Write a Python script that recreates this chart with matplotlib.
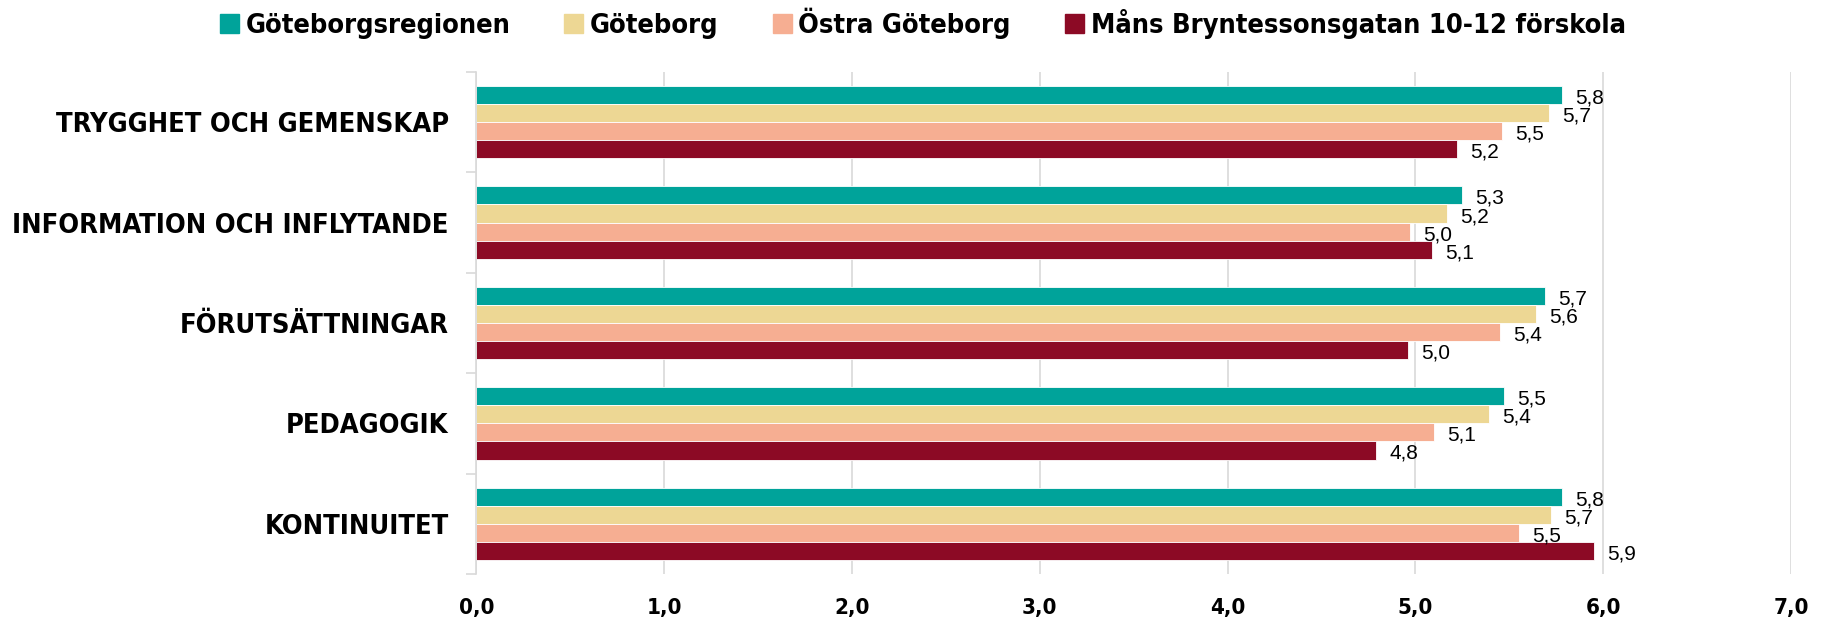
import numpy as np
import matplotlib.pyplot as plt
from matplotlib.patches import Patch
from matplotlib.font_manager import FontProperties

kategorier = ["TRYGGHET OCH GEMENSKAP", "INFORMATION OCH INFLYTANDE",
              "FÖRUTSÄTTNINGAR", "PEDAGOGIK", "KONTINUITET"]
serier = ["Göteborgsregionen", "Göteborg", "Östra Göteborg",
          "Måns Bryntessonsgatan 10-12 förskola"]
gbg_region = [5.78, 5.25, 5.69, 5.47, 5.78]
goteborg = [5.71, 5.17, 5.64, 5.39, 5.72]
ostra = [5.46, 4.97, 5.45, 5.10, 5.55]
forskola = [5.22, 5.09, 4.96, 4.79, 5.95]
etiketter = [[5.8, 5.3, 5.7, 5.5, 5.8],
             [5.7, 5.2, 5.6, 5.4, 5.7],
             [5.5, 5.0, 5.4, 5.1, 5.5],
             [5.2, 5.1, 5.0, 4.8, 5.9]]
farger = ["#00A39A", "#EDD794", "#F6AE92", "#8C0A25"]


def smal(size):
    return FontProperties(family="DejaVu Sans", stretch="condensed",
                          weight="bold", size=size)


fig = plt.figure(figsize=(18.27, 6.2), dpi=100)
ax = fig.add_axes([0.2608, 0.0742, 0.9803 - 0.2608, 0.884 - 0.0742])

data = [gbg_region, goteborg, ostra, forskola]
n = len(kategorier)
y = np.arange(n)
h = 0.18
for i, vals in enumerate(data):
    pos = y - 1.5 * h + i * h
    ax.barh(pos, vals, height=h, color=farger[i], edgecolor="white", linewidth=0.6)
    for p, v, t in zip(pos, vals, etiketter[i]):
        ax.text(v + 0.07, p + 0.03, ("%.1f" % t).replace(".", ","), va="center",
                ha="left", fontsize=15, family="Liberation Sans")

ax.set_ylim(n - 0.5, -0.5)
ax.set_xlim(0, 7)
ax.set_yticks(y)
ax.set_yticklabels(kategorier)
for lab in ax.get_yticklabels():
    lab.set_fontproperties(smal(19.5))
ax.set_yticks(np.arange(n + 1) - 0.5, minor=True)
ax.tick_params(axis="y", which="major", length=0, pad=20)
ax.tick_params(axis="y", which="minor", length=7, color="#d9d9d9", width=1.2)
ax.set_xticks(np.arange(0, 8))
ax.set_xticklabels([("%.1f" % v).replace(".", ",") for v in range(8)])
for lab in ax.get_xticklabels():
    lab.set_fontproperties(smal(16))
ax.tick_params(axis="x", length=0, pad=17)
ax.grid(axis="x", color="#d9d9d9", linewidth=1.2)
ax.set_axisbelow(True)
for s in ["top", "right", "bottom"]:
    ax.spines[s].set_visible(False)
ax.spines["left"].set_color("#d9d9d9")
ax.spines["left"].set_linewidth(1.2)

handles = [Patch(color=c) for c in farger]
fig.legend(handles, serier, loc="center", bbox_to_anchor=(0.505, 0.962), ncol=4,
           frameon=False, prop=smal(19.5),
           handlelength=0.7, handleheight=0.7, handletextpad=0.25, columnspacing=2.0)

fig.savefig("out.png", dpi=100)
